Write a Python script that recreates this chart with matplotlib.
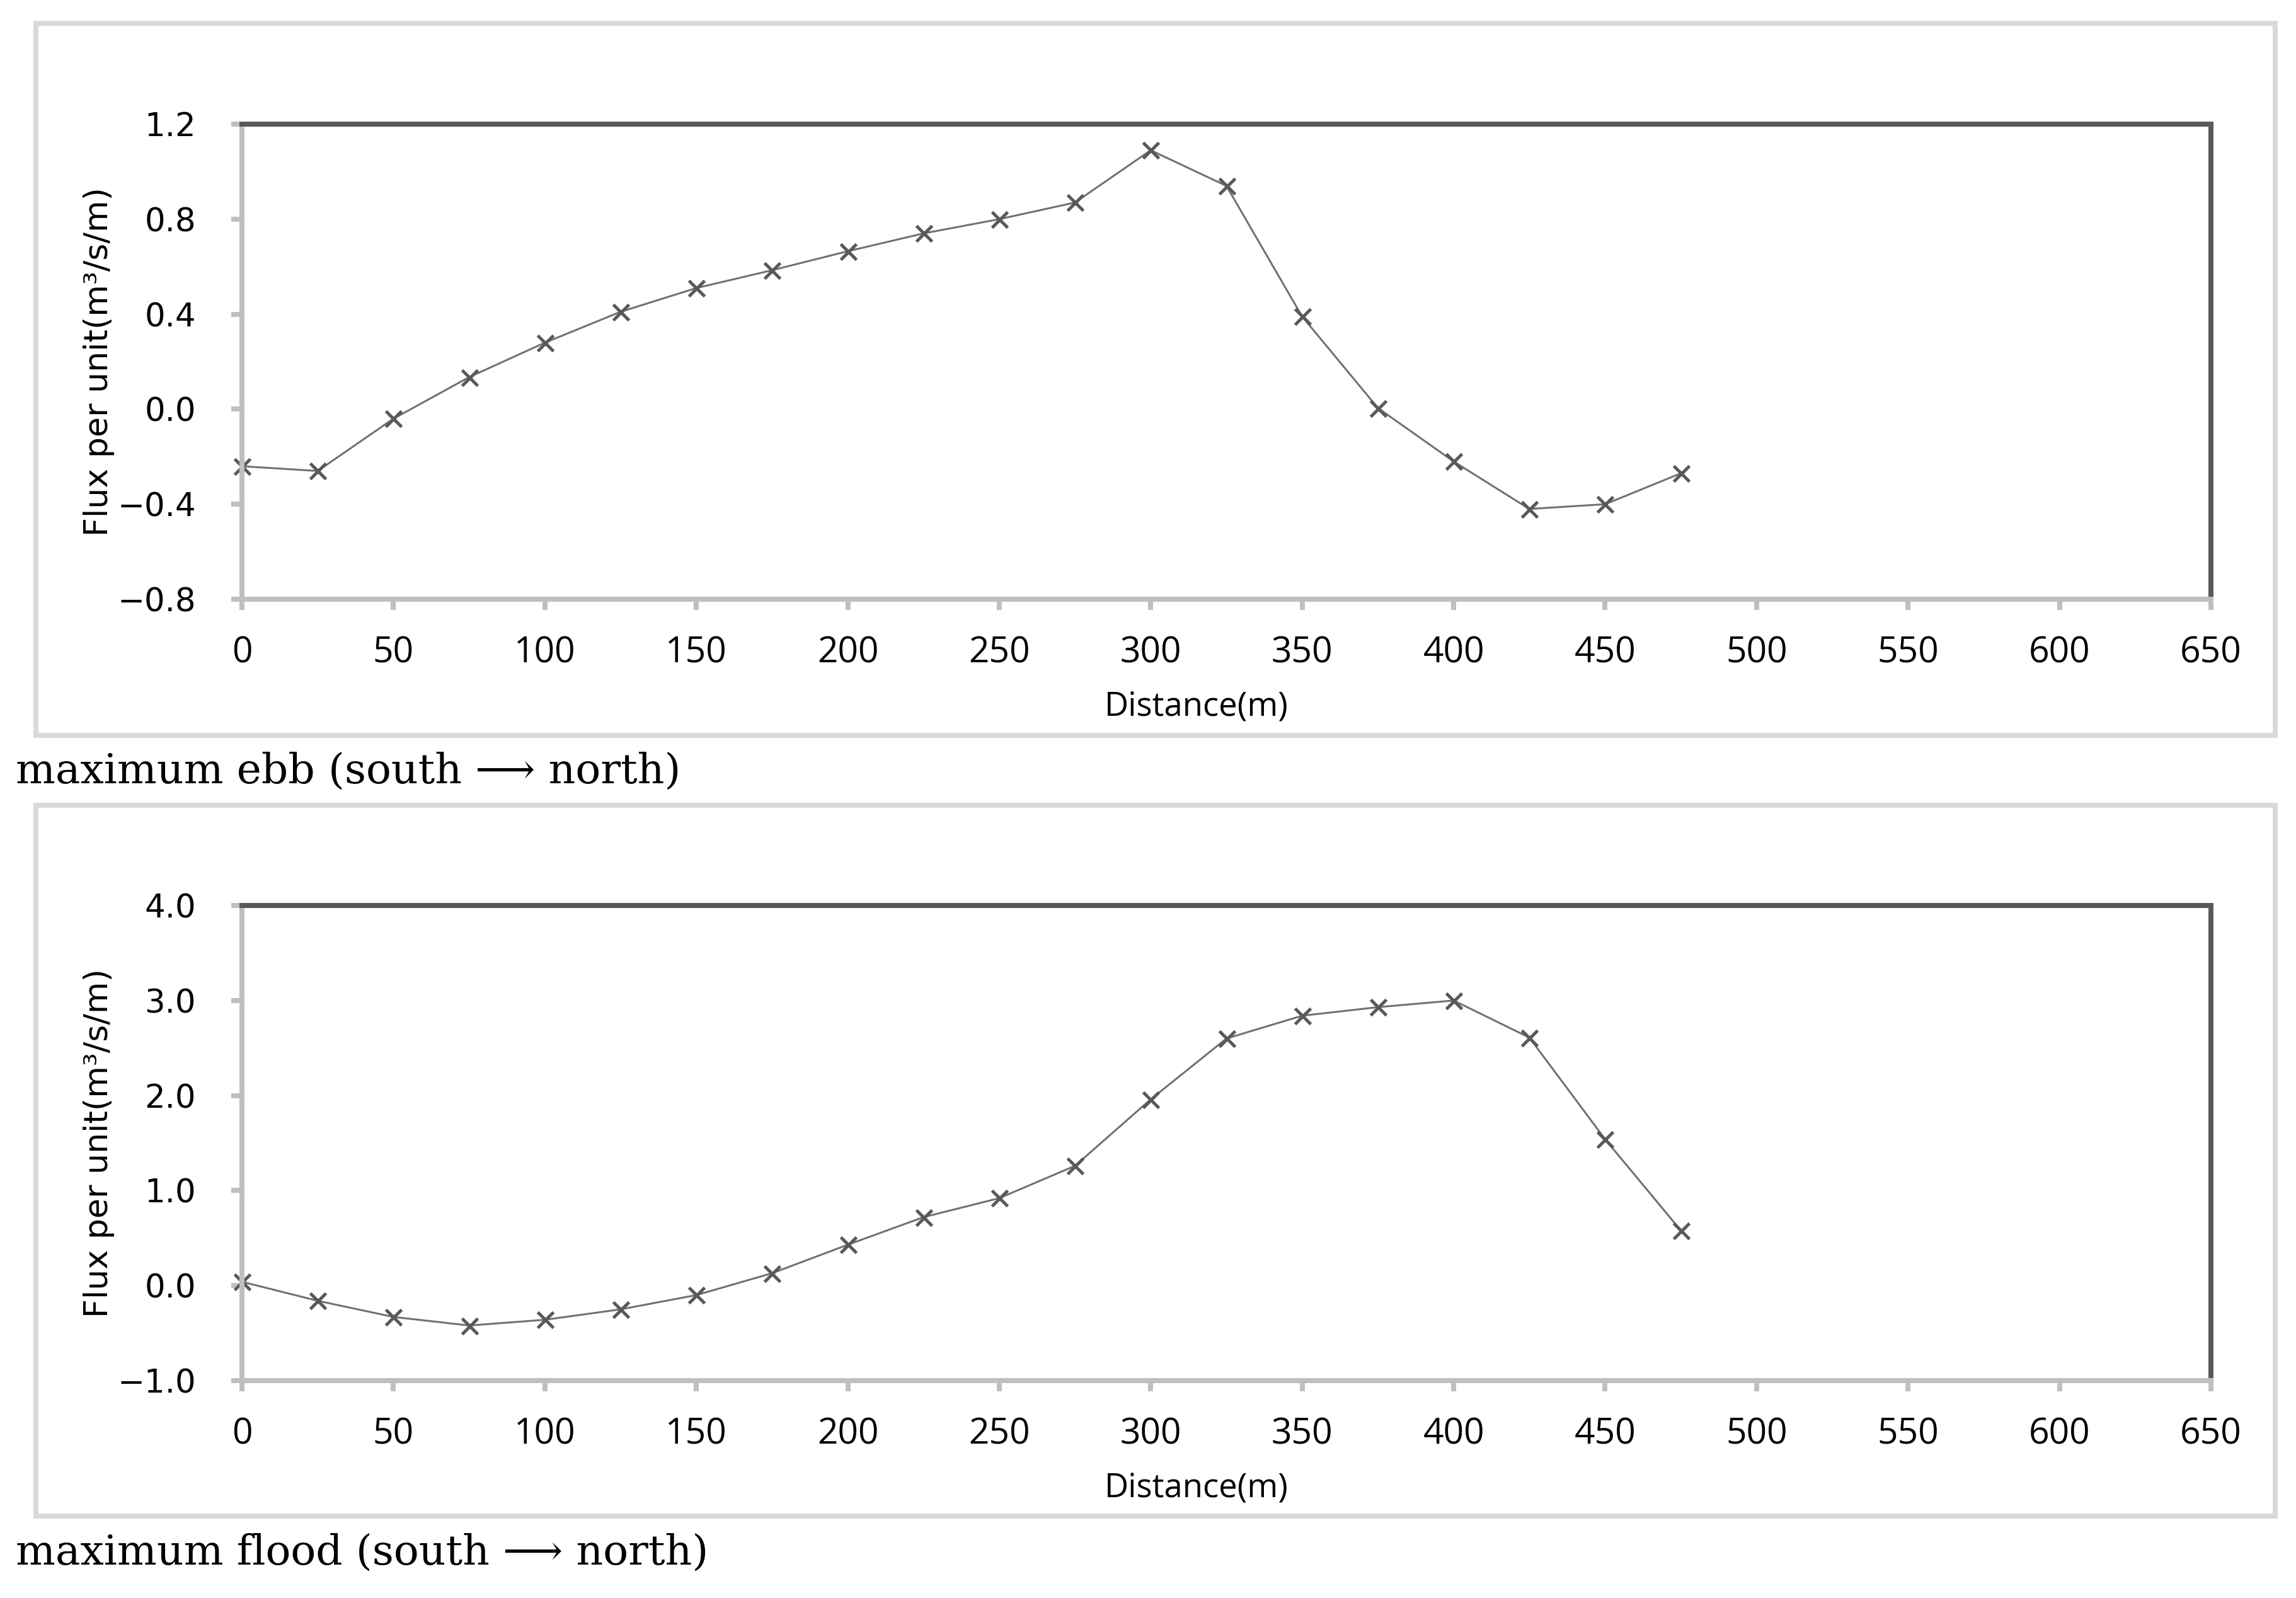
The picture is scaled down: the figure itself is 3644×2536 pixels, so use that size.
import numpy as np
import matplotlib
matplotlib.use("Agg")
import matplotlib.pyplot as plt
from matplotlib.patches import Rectangle

# distance along the section (m)
distance = [0, 25, 50, 75, 100, 125, 150, 175, 200, 225,
            250, 275, 300, 325, 350, 375, 400, 425, 450, 475]

# flux per unit width (m3/s/m)
flux_ebb = [-0.24, -0.26, -0.04, 0.135, 0.28, 0.41, 0.51, 0.585, 0.665, 0.74,
            0.80, 0.87, 1.09, 0.94, 0.39, 0.005, -0.22, -0.42, -0.40, -0.27]
flux_flood = [0.04, -0.16, -0.33, -0.42, -0.36, -0.25, -0.10, 0.13, 0.43, 0.72,
              0.92, 1.26, 1.96, 2.60, 2.84, 2.93, 3.00, 2.61, 1.54, 0.58]

x_ticks = list(range(0, 651, 50))
ebb_yticks = [-0.8, -0.4, 0.0, 0.4, 0.8, 1.2]
flood_yticks = [-1.0, 0.0, 1.0, 2.0, 3.0, 4.0]

captions = ["maximum ebb (south \u27f6 north)", "maximum flood (south \u27f6 north)"]

W, H = 3644, 2536
DPI = 100
PX = 72.0 / DPI  # points per pixel

DARK = "#595959"
LINE = "#707070"
LIGHT = "#BFBFBF"
FRAME = "#D9D9D9"

fig = plt.figure(figsize=(W / DPI, H / DPI), dpi=DPI)
fig.patch.set_facecolor("white")


def fig_rect(x0, y0, x1, y1):
    # pixel box (top-left origin) -> figure fraction rect
    return [x0 / W, 1 - y1 / H, (x1 - x0) / W, (y1 - y0) / H]


def frame(x0, y0, x1, y1):
    r = fig_rect(x0, y0, x1, y1)
    fig.patches.append(Rectangle((r[0], r[1]), r[2], r[3], transform=fig.transFigure,
                                 fill=False, ec=FRAME, lw=8 * PX))


def panel(ax, y, yticks, fmt):
    ax.plot(distance, y, color=LINE, lw=3 * PX, marker="x",
            ms=25 * PX, mew=5 * PX, mec=DARK, clip_on=False)
    ax.set_xlim(0, 650)
    ax.set_ylim(yticks[0], yticks[-1])
    ax.set_xticks(x_ticks)
    ax.set_yticks(yticks)
    ax.set_yticklabels([fmt.format(v).replace("-", "\u2212") for v in yticks],
                       family="DejaVu Sans", fontsize=37)
    ax.set_xticklabels([str(v) for v in x_ticks], family=["Open Sans", "DejaVu Sans"], fontsize=41)
    for s in ["top", "right"]:
        ax.spines[s].set_color(DARK)
        ax.spines[s].set_linewidth(8 * PX)
    for s in ["left", "bottom"]:
        ax.spines[s].set_color(LIGHT)
        ax.spines[s].set_linewidth(8 * PX)
    ax.tick_params(axis="both", direction="out", color=LIGHT, width=8 * PX, length=17 * PX)
    ax.tick_params(axis="y", pad=56 * PX)
    ax.tick_params(axis="x", pad=40 * PX)
    ax.set_xlabel("Distance(m)", family=["Open Sans", "DejaVu Sans"], fontsize=38, va="center")
    ax.xaxis.set_label_coords(0.4848, -0.2268)
    ax.set_ylabel("Flux per unit(m\u00b3/s/m)", family="DejaVu Sans", fontsize=37.5, va="center")
    ax.yaxis.set_label_coords(-0.0726, 0.5)


# outer frames
frame(57, 37, 3611, 1167)
frame(57, 1278, 3611, 2406)

ax1 = fig.add_axes(fig_rect(384, 197, 3509, 951))
panel(ax1, flux_ebb, ebb_yticks, "{:.1f}")

ax2 = fig.add_axes(fig_rect(384, 1437, 3509, 2191))
panel(ax2, flux_flood, flood_yticks, "{:.1f}")

fig.text(25 / W, 1 - 1225 / H, captions[0], family=["DejaVu Serif", "DejaVu Sans"],
         fontsize=47.8, va="center", ha="left")
fig.text(25 / W, 1 - 2465 / H, captions[1], family=["DejaVu Serif", "DejaVu Sans"],
         fontsize=47.8, va="center", ha="left")

fig.savefig("out.png", dpi=DPI, facecolor="white")
